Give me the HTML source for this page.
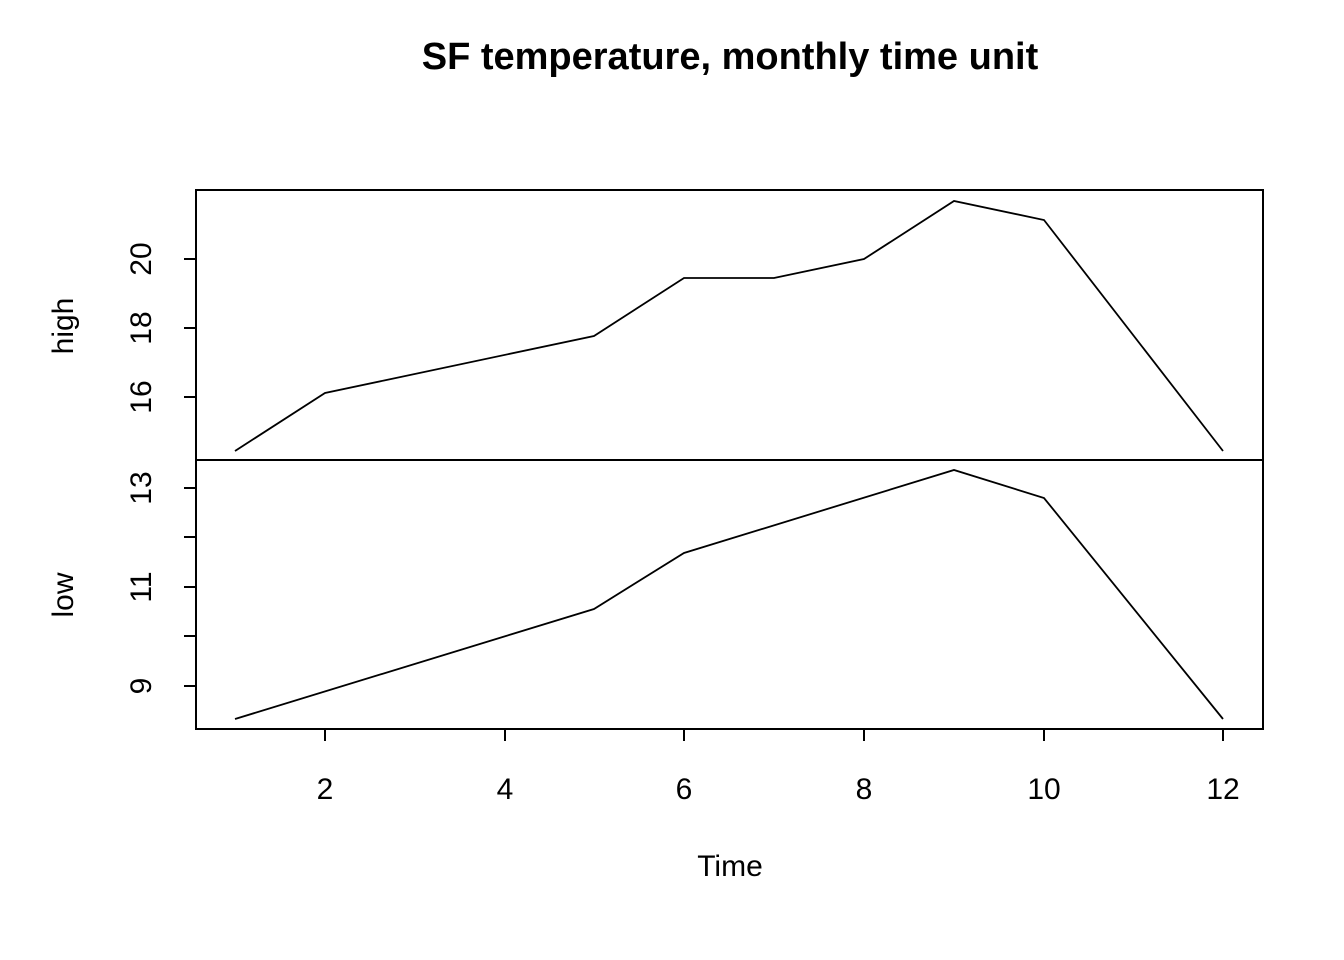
<!DOCTYPE html>
<html><head><meta charset="utf-8"><style>
html,body{margin:0;padding:0;background:#fff;}
svg{display:block;font-family:"Liberation Sans",Arial,sans-serif;}
</style></head><body>
<svg width="1344" height="960" viewBox="0 0 1344 960" xmlns="http://www.w3.org/2000/svg">
<text x="730" y="69" text-anchor="middle" font-size="38" font-weight="bold">SF temperature, monthly time unit</text>
<g fill="none" stroke="#000" stroke-width="2">
<rect x="196" y="190" width="1067" height="539"/>
<line x1="196" y1="460" x2="1263" y2="460"/>
<polyline stroke-width="1.8" points="235,451 325,393 594,336 684,278 774,278 864,259 954,201 1044,220 1223,451"/>
<polyline stroke-width="1.8" points="235,719 594,609 684,553 954,470 1044,498 1223,719"/>
<line x1="196" y1="397" x2="184" y2="397"/><line x1="196" y1="328" x2="184" y2="328"/><line x1="196" y1="259" x2="184" y2="259"/>
<line x1="196" y1="686" x2="184" y2="686"/><line x1="196" y1="636" x2="184" y2="636"/><line x1="196" y1="587" x2="184" y2="587"/><line x1="196" y1="537" x2="184" y2="537"/><line x1="196" y1="488" x2="184" y2="488"/>
<line x1="325" y1="729" x2="325" y2="741"/><line x1="505" y1="729" x2="505" y2="741"/><line x1="684" y1="729" x2="684" y2="741"/><line x1="864" y1="729" x2="864" y2="741"/><line x1="1044" y1="729" x2="1044" y2="741"/><line x1="1223" y1="729" x2="1223" y2="741"/>
</g>
<g font-size="30" text-anchor="middle">
<text x="325" y="799">2</text><text x="505" y="799">4</text><text x="684" y="799">6</text><text x="864" y="799">8</text><text x="1044" y="799">10</text><text x="1223" y="799">12</text>
<text x="730" y="876">Time</text>
<text transform="translate(151,397) rotate(-90)">16</text>
<text transform="translate(151,328) rotate(-90)">18</text>
<text transform="translate(151,259) rotate(-90)">20</text>
<text transform="translate(151,686) rotate(-90)">9</text>
<text transform="translate(151,587) rotate(-90)">11</text>
<text transform="translate(151,488) rotate(-90)">13</text>
<text transform="translate(73,326) rotate(-90)">high</text>
<text transform="translate(73,595) rotate(-90)">low</text>
</g>
</svg>
</body></html>
